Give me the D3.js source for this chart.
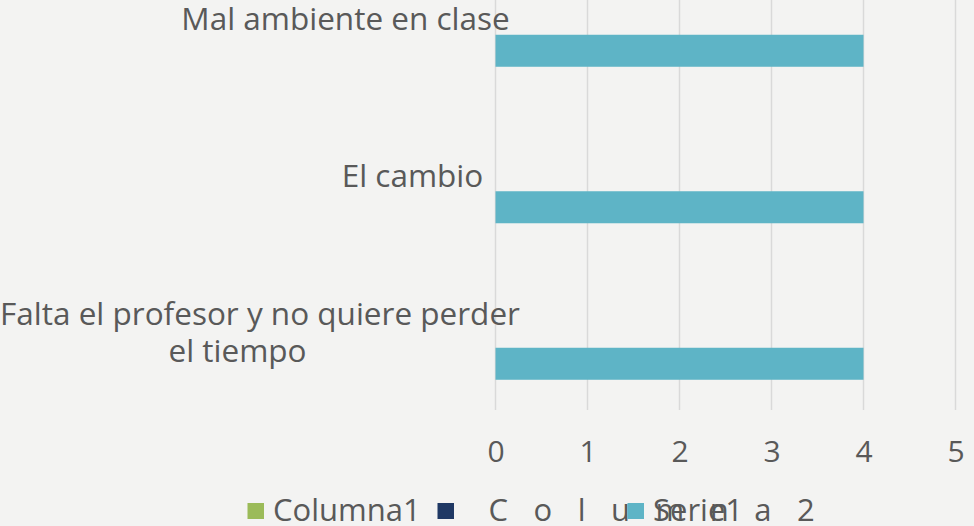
<!DOCTYPE html>
<html>
<head>
<meta charset="utf-8">
<script src="https://cdn.jsdelivr.net/npm/d3@7"></script>
<style>
  html, body { margin: 0; padding: 0; background: #f3f3f2; }
  svg { display: block; font-family: "Open Sans", "Noto Sans", sans-serif; }
</style>
</head>
<body>
<svg id="chart" width="974" height="526"></svg>
<script>
var categories = ["Mal ambiente en clase", "El cambio", "Falta el profesor y no quiere perder el tiempo"];
var seriesNames = ["Columna1", "Columna2", "Serie1"];
var columna1 = [null, null, null];
var columna2 = [null, null, null];
var serie1 = [4, 4, 4];
var xTicks = [0, 1, 2, 3, 4, 5];

var colors = { Columna1: "#9bbb59", Columna2: "#1f3864", Serie1: "#5eb4c6" };
// label line breaks and nudges, as in the original picture
var labelLines = [["Mal ambiente en clase"], ["El cambio"], ["Falta el profesor y no quiere perder", "el tiempo"]];
var labelCenter = [345.5, 412.5, null];
var lineCenter = [260, 237.5];

var svg = d3.select("#chart");

var x = d3.scaleLinear().domain([0, 5]).range([495.5, 955.5]);
var y0 = d3.scaleBand().domain(categories).range([-59.5, 410]).padding(0);
var y1 = d3.scaleBand().domain(seriesNames).range([0, y0.bandwidth()]).paddingInner(0).paddingOuter(0.945);

// gridlines
svg.append("g").selectAll("line").data(xTicks).join("line")
  .attr("x1", function (d) { return x(d); })
  .attr("x2", function (d) { return x(d); })
  .attr("y1", 0).attr("y2", 410)
  .attr("stroke", "#d9d9d9").attr("stroke-width", 1.5);

// bars
var values = { Columna1: columna1, Columna2: columna2, Serie1: serie1 };
seriesNames.forEach(function (s) {
  svg.append("g").selectAll("rect").data(values[s].map(function (v, i) { return { v: v, c: categories[i] }; })
    .filter(function (d) { return d.v != null; }))
    .join("rect")
    .attr("x", x(0))
    .attr("width", function (d) { return x(d.v) - x(0); })
    .attr("y", function (d) { return y0(d.c) + y1(s); })
    .attr("height", y1.bandwidth())
    .attr("fill", colors[s]);
});

// x axis labels
var xAxis = d3.axisBottom(x).tickValues(xTicks).tickFormat(d3.format("d")).tickSize(0).tickPadding(0);
var ax = svg.append("g").attr("transform", "translate(0,440)").call(xAxis);
ax.select(".domain").remove();
ax.selectAll("text").attr("fill", "#595959").attr("font-size", 30).attr("dy", "0.72em")
  .style("font-family", "'Open Sans', 'Noto Sans', sans-serif");

// category labels
var lh = 37;
categories.forEach(function (c, i) {
  var lines = labelLines[i];
  var cy = y0(c) + y0.bandwidth() / 2;
  var t = svg.append("text").attr("fill", "#595959").attr("font-size", 31.5).attr("text-anchor", "middle");
  lines.forEach(function (ln, j) {
    t.append("tspan")
      .attr("x", lines.length > 1 ? lineCenter[j] : labelCenter[i])
      .attr("y", cy + (j - (lines.length - 1) / 2) * lh)
      .attr("dy", "0.36em")
      .text(ln);
  });
});

// legend
var lg = svg.append("g").attr("transform", "translate(247.5,503)");
seriesNames.forEach(function (s, i) {
  var g = lg.append("g").attr("transform", "translate(" + (i * 190) + ",0)");
  g.append("rect").attr("width", 16.5).attr("height", 16).attr("fill", colors[s]);
  var t = g.append("text").attr("x", 25.5).attr("y", 18).attr("fill", "#595959").attr("font-size", 31).text(s);
  if (s === "Columna2") t.attr("x", 51).attr("letter-spacing", 25.5);
});
</script>
</body>
</html>
